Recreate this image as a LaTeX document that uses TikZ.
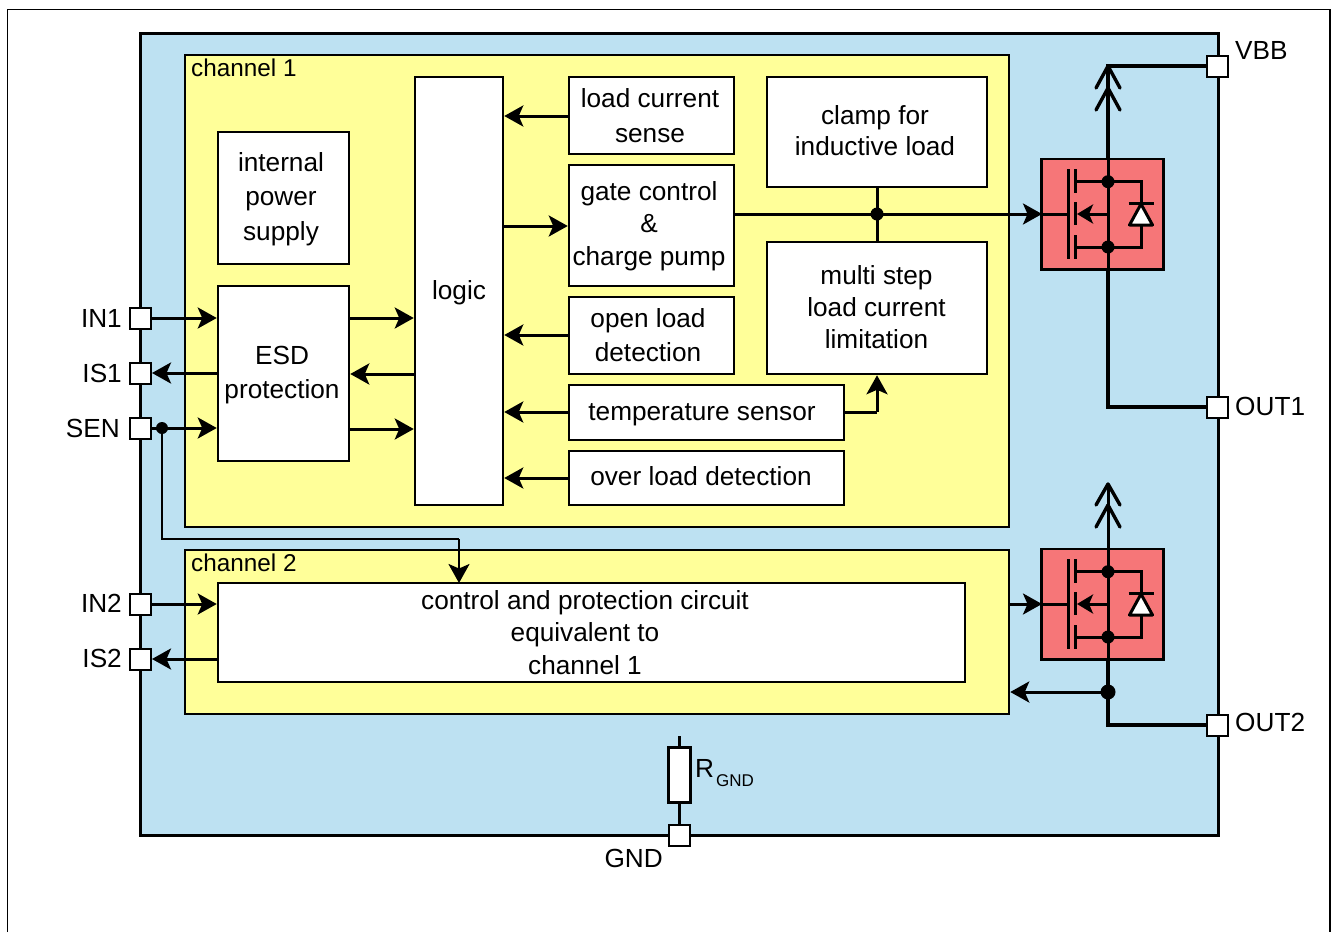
\documentclass[tikz,border=0pt]{standalone}
\usepackage{fontspec}
\setmainfont{Liberation Sans}
\usetikzlibrary{arrows.meta,calc}
\definecolor{chipblue}{HTML}{BDE1F2}
\definecolor{chanyellow}{HTML}{FFFF99}
\definecolor{fetred}{HTML}{F67678}
\tikzset{
  x=1pt,y=-1pt,
  wire/.style={line width=3pt,draw=black},
  heavy/.style={line width=3.4pt,draw=black},
  arr/.style={wire,-{Stealth[length=19pt,width=21pt,inset=4.5pt]}},
  dot/.style={circle,fill=black,inner sep=0pt,minimum size=13pt},
  smalldot/.style={circle,fill=black,inner sep=0pt,minimum size=12pt},
  bx/.style={draw=black,line width=2.5pt,fill=white,inner sep=0pt},
  tx/.style={inner sep=0pt,align=center,font=\fontsize{26.2pt}{32pt}\selectfont},
  pin/.style={draw=black,line width=2pt,fill=white,minimum size=21pt,inner sep=0pt},
  lab/.style={inner sep=0pt,font=\fontsize{26.2pt}{32pt}\selectfont},
  chlab/.style={inner sep=0pt,anchor=west,font=\fontsize{24.3pt}{28pt}\selectfont},
  fet/.style={line width=3pt,draw=black},
}
% name, x1, y1, x2, y2, style
\newcommand{\bxat}[6]{\node[bx,#6,minimum width={(#4-#2)*1pt},minimum height={(#5-#3)*1pt}] (#1) at ({(#2+#4)/2},{(#3+#5)/2}) {};}
\newcommand{\fetsym}[2]{%
  \begin{scope}[shift={(#1,#2)}]
    \node[draw=black,line width=2.5pt,fill=fetred,minimum width=121.6pt,minimum height=110.3pt,inner sep=0pt,outer sep=0pt,anchor=north west] (f#1) at (-0.3,0) {};
    \draw[line width=3pt] (26.5,10)--(26.5,100);
    \draw[line width=3pt] (33,10)--(33,34) (33,43)--(33,66) (33,76)--(33,100);
    \draw[fet] (0,55)--(26.5,55);
    \draw[fet] (33,22.7)--(99,22.7)--(99,88)--(33,88);
    \draw[fet] (66,0)--(66,110);
    \draw[fet,-{Stealth[length=16pt,width=19pt,inset=4pt]}] (66,55)--(35,55);
    \node[dot] at (66,22.7) {};
    \node[dot] at (66,88) {};
    \draw[line width=3pt,fill=white,line join=round] (99,45)--(87.5,66)--(110.5,66)--cycle;
    \draw[line width=3pt] (86.5,44)--(111.5,44);
  \end{scope}}
\begin{document}
\begin{tikzpicture}[line cap=butt]
\useasboundingbox (0,0) rectangle (1331,932);
\draw[line width=1.5pt] (7.5,932)--(7.5,9.5)--(1330,9.5)--(1330,932);
\bxat{chip}{140}{33}{1218}{835}{fill=chipblue,line width=3pt}
\bxat{ch1}{185}{55}{1009}{527}{fill=chanyellow}
\bxat{ch2}{185}{550}{1009}{714}{fill=chanyellow}
\node[chlab] (ch1l) at (191,68) {channel 1};
\node[chlab] (ch2l) at (191,563) {channel 2};
\bxat{logic}{415}{77}{503}{505}{}
\bxat{ips}{218}{132}{349}{264}{}
\bxat{esd}{218}{286}{349}{461}{}
\bxat{lcs}{569}{77}{734}{154}{}
\bxat{gate}{569}{165}{734}{286}{}
\bxat{old}{569}{297}{734}{374}{}
\bxat{temp}{569}{385}{844}{440}{}
\bxat{over}{569}{451}{844}{505}{}
\bxat{clamp}{767}{77}{987}{187}{}
\bxat{multi}{767}{242}{987}{374}{}
\bxat{ctrl}{218}{583}{965}{682}{}
\node[tx] (logict) at (459,293) {logic};
\node[tx] (ipst) at (281,199) {internal\\[2.5pt]power\\[2.5pt]supply};
\node[tx] (esdt) at (282,375.5) {ESD\\[2pt]protection};
\node[tx] (lcst) at (650,116) {load current\\[3pt]sense};
\node[tx] (gatet) at (649,226) {gate control\\[0.5pt]\&\\[0.5pt]charge pump};
\node[tx] (oldt) at (648,335.5) {open load\\[2pt]detection};
\node[tx] (tempt) at (702,414.5) {temperature sensor};
\node[tx] (overt) at (701,476) {over load detection};
\node[tx] (clampt) at (875,130.5) {clamp for\\[-1pt]inductive load};
\node[tx] (multit) at (876.5,307) {multi step\\load current\\limitation};
\node[tx] (ctrlt) at (585,632.5) {control and protection circuit\\[0.5pt]equivalent to\\[0.5pt]channel 1};
\fetsym{1042}{159}
\fetsym{1042}{549}
% pins
\node[pin] (vbb) at (1217.5,66) {};
\node[pin] (out1) at (1217.5,407) {};
\node[pin] (out2) at (1217.5,725) {};
\node[pin] (in1) at (140.5,318) {};
\node[pin] (is1) at (140.5,373) {};
\node[pin] (sen) at (140.5,428) {};
\node[pin] (in2) at (140.5,604) {};
\node[pin] (is2) at (140.5,659) {};
\node[pin] (gnd) at (679,835.5) {};
\node[lab,anchor=west] (lvbb) at (1235,50) {VBB};
\node[lab,anchor=west] (lout1) at (1235,406) {OUT1};
\node[lab,anchor=west] (lout2) at (1235,722) {OUT2};
\node[lab,anchor=east] (lin1) at (122,318) {IN1};
\node[lab,anchor=east] (lis1) at (122,373) {IS1};
\node[lab,anchor=east] (lsen) at (120,428) {SEN};
\node[lab,anchor=east] (lin2) at (122,603) {IN2};
\node[lab,anchor=east] (lis2) at (122,658) {IS2};
\node[lab,anchor=east] (lgnd) at (663,858) {GND};
% input side connectors
\draw[arr] (in1.east)--(esd.west|-in1);
\draw[arr] (esd.west|-is1)--(is1.east);
\draw[arr] (sen.east)--(esd.west|-sen);
\node[smalldot] (sdot) at (162,428) {};
\coordinate (snk) at (162,539);
\coordinate (snk2) at (459,539);
\draw[wire,line width=2.5pt] (sdot.center)--(snk)--(snk2);
\draw[arr,line width=2.5pt] (snk2)--(459,583);
\draw[arr] (in2.east)--(ctrl.west|-in2);
\draw[arr] (ctrl.west|-is2)--(is2.east);
% esd to logic
\draw[arr] (esd.east|-0,318)--(logic.west|-0,318);
\draw[arr] (logic.west|-0,374)--(esd.east|-0,374);
\draw[arr] (esd.east|-0,429)--(logic.west|-0,429);
% blocks to logic
\draw[arr] (lcs.west|-0,116)--(logic.east|-0,116);
\draw[arr] (logic.east|-0,226)--(gate.west|-0,226);
\draw[arr] (old.west|-0,335)--(logic.east|-0,335);
\draw[arr] (temp.west|-0,412)--(logic.east|-0,412);
\draw[arr] (over.west|-0,478)--(logic.east|-0,478);
% gate to fet
\coordinate (fin1) at (1042,214);
\draw[arr] (gate.east|-fin1)--(fin1);
\node[dot] (jn) at (877,214) {};
\draw[wire] (clamp.south-|jn)--(multi.north-|jn);
\coordinate (tk) at (877,412);
\draw[wire] (temp.east|-tk)--(tk);
\draw[arr] (tk)--(multi.south-|tk);
% fet 1 supply and output
\coordinate (vt) at (1108,66);
\coordinate (o1k) at (1108,407);
\draw[heavy] (vbb.west)--(vt)--(1108,159);
\draw[heavy,line join=round,line cap=round] (1096,88)--(vt)--(1120,88);
\draw[heavy,line join=round,line cap=round] (1096,110)--(1108,88)--(1120,110);
\draw[heavy] (1108,269)--(o1k)--(out1.west);
% fet 2
\coordinate (vt2) at (1108,484);
\draw[wire] (vt2)--(1108,549);
\draw[heavy,line join=round,line cap=round] (1096,505)--(vt2)--(1120,505);
\draw[heavy,line join=round,line cap=round] (1096,527)--(1108,505)--(1120,527);
\coordinate (fin2) at (1042,604);
\draw[arr] (ch2.east|-fin2)--(fin2);
\node[dot,minimum size=15pt] (jo2) at (1108,692) {};
\coordinate (o2k) at (1108,725);
\draw[heavy] (1108,659)--(o2k)--(out2.west);
\draw[arr] (jo2.center)--(ch2.east|-jo2);
% resistor
\coordinate (rt) at (679,736);
\bxat{rg}{668}{747}{690}{802}{line width=3pt}
\draw[wire] (rt)--(rg.north);
\draw[wire] (rg.south)--(gnd.north);
\node[lab,anchor=west] (rl) at (695,768) {R};
\node[inner sep=0pt,anchor=west,font=\fontsize{17pt}{20pt}\selectfont] (rs) at (716,781) {GND};
\end{tikzpicture}
\end{document}
